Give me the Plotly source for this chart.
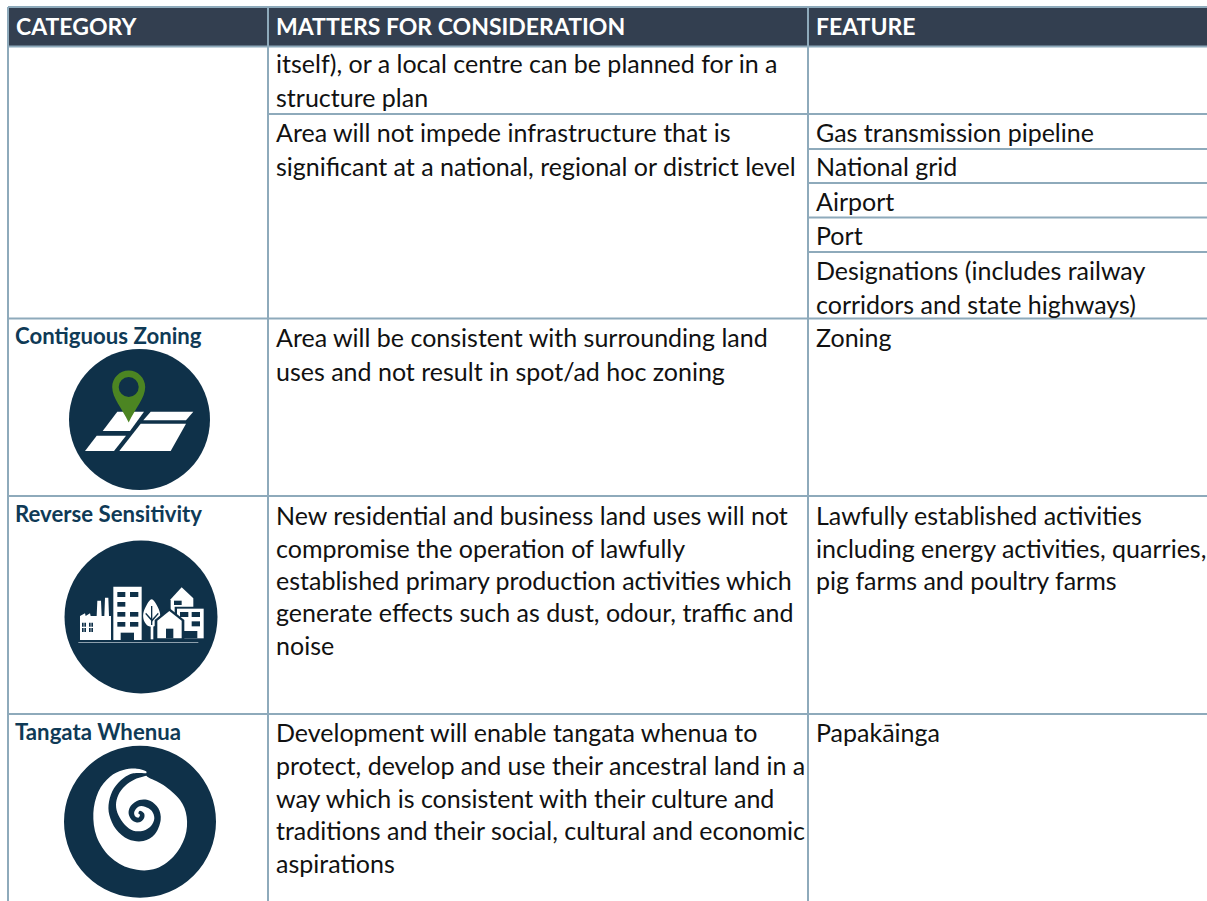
import plotly.graph_objects as go

# ---------- content ----------
headers = ["CATEGORY", "MATTERS FOR CONSIDERATION", "FEATURE"]
categories = ["Contiguous Zoning", "Reverse Sensitivity", "Tangata Whenua"]
matters = [
    "itself), or a local centre can be planned for in a",
    "structure plan",
    "Area will not impede infrastructure that is",
    "significant at a national, regional or district level",
    "Area will be consistent with surrounding land",
    "uses and not result in spot/ad hoc zoning",
    "New residential and business land uses will not",
    "compromise the operation of lawfully",
    "established primary production activities which",
    "generate effects such as dust, odour, traffic and",
    "noise",
    "Development will enable tangata whenua to",
    "protect, develop and use their ancestral land in a",
    "way which is consistent with their culture and",
    "traditions and their social, cultural and economic",
    "aspirations",
]
features = [
    "Gas transmission pipeline",
    "National grid",
    "Airport",
    "Port",
    "Designations (includes railway",
    "corridors and state highways)",
    "Zoning",
    "Lawfully established activities",
    "including energy activities, quarries,",
    "pig farms and poultry farms",
    "Papakāinga",
]

# ---------- layout of the page (pixels) ----------
W, H = 1207, 901
FONT = "Lato"
FS = 25
INK = "#111111"
HEAD = "#333f50"
RULE = "#8eaabb"
NAVY = "#0f3149"
GREEN = "#4c8522"
TITLE = "#0f3a56"

header_x = [16, 276, 816]
matter_y = [63, 97, 132, 166, 337, 371, 515, 548, 580, 612, 645, 732, 765, 798, 830, 863]
feature_y = [132, 166, 201, 235, 270, 304, 337, 515, 548, 580, 732]
category_y = [335, 513, 731]

shapes = []
ann = []


def line(x0, y0, x1, y1):
    shapes.append(dict(type="line", x0=x0, y0=y0, x1=x1, y1=y1,
                       line=dict(color=RULE, width=2), layer="above"))


def text(x, y, s, size=FS, color=INK, bold=False):
    ann.append(dict(x=x, y=y, text=f"<b>{s}</b>" if bold else s, showarrow=False,
                    xanchor="left", yanchor="middle", borderpad=0, borderwidth=0,
                    font=dict(family=FONT, size=size, color=color)))


def poly(points, fill, smooth_curve=False, close=True):
    if smooth_curve:
        n = len(points)
        d = f"M{points[0][0]:.2f},{points[0][1]:.2f}"
        for i in range(n):
            p0, p1, p2, p3 = points[i - 1], points[i], points[(i + 1) % n], points[(i + 2) % n]
            c1 = (p1[0] + (p2[0] - p0[0]) / 6, p1[1] + (p2[1] - p0[1]) / 6)
            c2 = (p2[0] - (p3[0] - p1[0]) / 6, p2[1] - (p3[1] - p1[1]) / 6)
            d += f" C{c1[0]:.2f},{c1[1]:.2f} {c2[0]:.2f},{c2[1]:.2f} {p2[0]:.2f},{p2[1]:.2f}"
        d += " Z"
    else:
        d = "M" + " L".join(f"{x:.2f},{y:.2f}" for x, y in points) + " Z"
    shapes.append(dict(type="path", path=d, fillcolor=fill, line=dict(width=0), layer="above"))


def rect(x0, y0, x1, y1, fill):
    shapes.append(dict(type="rect", x0=x0, y0=y0, x1=x1, y1=y1, fillcolor=fill,
                       line=dict(width=0), layer="above"))


def circle(cx, cy, r, fill):
    shapes.append(dict(type="circle", x0=cx - r, y0=cy - r, x1=cx + r, y1=cy + r,
                       fillcolor=fill, line=dict(width=0), layer="above"))


# header band
rect(8, 7, W, 46.5, HEAD)

# rules
line(8, 7, W, 7)
line(8, 46.5, W, 46.5)
line(8, 7, 8, H)
line(268, 7, 268, H)
line(808, 7, 808, H)
line(268, 114, W, 114)
for y in (149, 183, 217.5, 252):
    line(808, y, W, y)
for y in (318.5, 496, 714):
    line(8, y, W, y)

# text
for x, s in zip(header_x, headers):
    text(x, 26, s, size=23, color="#ffffff", bold=True)
for y, s in zip(category_y, categories):
    text(15, y, s, size=22.2, color=TITLE, bold=True)
for y, s in zip(matter_y, matters):
    text(276, y, s)
for y, s in zip(feature_y, features):
    text(816, y, s)

# ---------- icon 1: contiguous zoning ----------
circle(139.5, 419.5, 70.5, NAVY)
for parcel in (
    [(117.3, 411.7), (144, 411.7), (130, 431), (102.7, 431)],
    [(150.7, 411.7), (193.3, 411.7), (186, 420.3), (143.3, 420.3)],
    [(96.7, 435.7), (126, 435.7), (114, 451), (85, 451)],
    [(140.7, 423.7), (186, 423.7), (170.7, 451), (119.3, 451)],
):
    poly(parcel, "#ffffff")
shapes.append(dict(
    type="path",
    path="M128.7,422.5 C122,408 112.2,398 112.2,387 C112.2,378 119.6,370.5 128.7,370.5 "
         "C137.8,370.5 145.2,378 145.2,387 C145.2,398 135.4,408 128.7,422.5 Z",
    fillcolor=GREEN, line=dict(width=0), layer="above"))
circle(128.7, 387, 10, NAVY)

# ---------- icon 2: reverse sensitivity ----------
circle(141, 617, 76.5, NAVY)


def z3(pts):
    return [(40 + x / 3, 530 + y / 3) for x, y in pts]


def zrect(x0, y0, x1, y1, fill):
    rect(40 + x0 / 3, 530 + y0 / 3, 40 + x1 / 3, 530 + y1 / 3, fill)


WHITE = "#ffffff"
poly(z3([(120, 330), (120, 258), (135, 250), (137, 258), (150, 250), (152, 258), (170, 258),
         (172, 212), (183, 212), (185, 258), (193, 258), (195, 203), (205, 203), (207, 258),
         (213, 258), (213, 330)]), WHITE)
for wx in (126, 147):
    for wy in (278, 294):
        for dx in (0, 7):
            zrect(wx + dx, wy, wx + dx + 5, wy + 12, NAVY)
zrect(220, 170, 305, 330, WHITE)
for win in ((232, 186, 256, 201), (270, 186, 295, 201), (232, 216, 256, 230),
            (232, 246, 256, 260), (270, 246, 295, 260), (232, 276, 256, 290), (270, 276, 295, 290)):
    zrect(*win, NAVY)
zrect(242, 308, 282, 330, NAVY)
# tree
poly(z3([(335, 208), (350, 225), (360, 250), (358, 272), (345, 288), (325, 288),
         (312, 272), (310, 250), (320, 225)]), WHITE, smooth_curve=True)
zrect(332, 285, 340, 328, WHITE)
zrect(333, 228, 337, 285, NAVY)
poly(z3([(318, 248), (336, 268), (354, 248), (356, 252), (336, 275), (316, 252)]), NAVY)
# back house and right building
poly(z3([(425, 172), (392, 208), (392, 250), (460, 250), (460, 205)]), WHITE)
zrect(402, 212, 425, 225, NAVY)
zrect(404, 230, 496, 330, NAVY)
zrect(411, 236, 491, 325, WHITE)
for win in ((420, 246, 445, 261), (455, 246, 480, 261), (455, 274, 480, 289)):
    zrect(*win, NAVY)
zrect(432, 303, 472, 325, NAVY)
# front house with dark outline
poly(z3([(344, 332), (344, 270), (388, 234), (433, 270), (433, 332)]), NAVY)
poly(z3([(352, 325), (352, 272), (388, 243), (425, 272), (425, 325)]), WHITE)
zrect(378, 296, 400, 325, NAVY)
zrect(115, 337, 475, 339, "#b9c5ce")

# ---------- icon 3: tangata whenua ----------
circle(140, 821.7, 76, NAVY)


def z6(pts):
    return [(90 + x / 3, 760 + y / 3) for x, y in pts]


poly(z6([(168, 34), (140, 26), (100, 30), (60, 50), (25, 95), (10, 160), (20, 230), (60, 290),
         (120, 325), (190, 328), (250, 290), (285, 230), (290, 170), (270, 120), (220, 75),
         (172, 50)]), WHITE, smooth_curve=True)
poly(z6([(172, 40), (130, 40), (100, 55), (72, 85), (57, 125), (58, 165), (78, 208), (115, 238),
         (160, 243), (195, 222), (212, 180), (205, 145), (180, 122), (148, 120), (122, 138),
         (116, 162), (128, 182), (148, 187), (162, 175), (162, 160), (150, 152), (145, 160),
         (150, 165), (145, 173), (135, 168), (133, 155), (145, 140), (165, 140), (185, 152),
         (193, 175), (183, 198), (160, 212), (130, 212), (105, 195), (85, 165), (78, 135),
         (85, 105), (105, 78), (135, 58), (172, 46)]), NAVY, smooth_curve=True)

fig = go.Figure()
fig.add_trace(go.Scatter(x=[], y=[], hoverinfo="skip", showlegend=False))
fig.update_layout(
    width=W, height=H, margin=dict(l=0, r=0, t=0, b=0),
    paper_bgcolor="#ffffff", plot_bgcolor="#ffffff", showlegend=False,
    xaxis=dict(range=[0, W], visible=False, fixedrange=True),
    yaxis=dict(range=[H, 0], visible=False, fixedrange=True),
    shapes=shapes, annotations=ann,
)
fig.write_html("out.html", config=dict(displayModeBar=False),
               post_script="document.body.style.margin='0';document.documentElement.style.overflow='hidden';")
